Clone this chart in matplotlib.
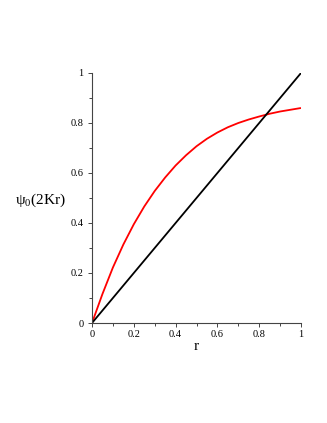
import matplotlib
matplotlib.use("Agg")
import matplotlib.pyplot as plt
from matplotlib.ticker import MultipleLocator

# values
r_vals = [0.0, 0.05, 0.10, 0.15, 0.20, 0.25, 0.30, 0.35, 0.40, 0.45, 0.50,
          0.55, 0.60, 0.65, 0.70, 0.75, 0.80, 0.85, 0.90, 0.95, 1.0]
psi_vals = [0.0, 0.116, 0.222, 0.314, 0.395, 0.466, 0.528, 0.582, 0.630, 0.671, 0.707,
            0.737, 0.762, 0.783, 0.800, 0.814, 0.826, 0.837, 0.846, 0.853, 0.860]
line_r = [0.0, 1.0]
line_y = [0.0, 1.0]

tick_vals = [0, 0.2, 0.4, 0.6, 0.8, 1]
tick_labels = ["0", "0.2", "0.4", "0.6", "0.8", "1"]

plt.rcParams['font.family'] = ['Liberation Serif', 'DejaVu Serif']
plt.rcParams['mathtext.fontset'] = 'custom'
plt.rcParams['mathtext.rm'] = 'Liberation Serif'

fig = plt.figure(figsize=(3.27, 4.23), dpi=100)
ax = fig.add_axes([92 / 327, 100 / 423, 209 / 327, 250 / 423])

ax.plot(r_vals, psi_vals, color='#ff0000', lw=1.3, solid_capstyle='butt')
ax.plot(line_r, line_y, color='black', lw=1.3, solid_capstyle='butt')

ax.set_xlim(0, 1)
ax.set_ylim(0, 1)
ax.spines['top'].set_visible(False)
ax.spines['right'].set_visible(False)
for side in ['left', 'bottom']:
    ax.spines[side].set_linewidth(0.8)
    ax.spines[side].set_color('#444444')

ax.set_xticks(tick_vals)
ax.set_xticklabels(tick_labels)
ax.set_yticks(tick_vals)
ax.set_yticklabels(tick_labels)
ax.xaxis.set_minor_locator(MultipleLocator(0.1))
ax.yaxis.set_minor_locator(MultipleLocator(0.1))
ax.tick_params(which='major', direction='out', length=3, width=0.7, color='#444444',
               labelsize=7.5, pad=2)
ax.tick_params(which='minor', direction='out', length=2, width=0.7, color='#444444')
ax.tick_params(axis='y', pad=3)

ax.text(0.5, -0.095, "r", transform=ax.transAxes, ha='center', va='center', fontsize=11)
ax.text(-0.245, 0.49, r"ψ$_{\mathrm{0}}$(2Kr)", transform=ax.transAxes,
        ha='center', va='center', fontsize=11)

fig.savefig("out.png", dpi=100)
